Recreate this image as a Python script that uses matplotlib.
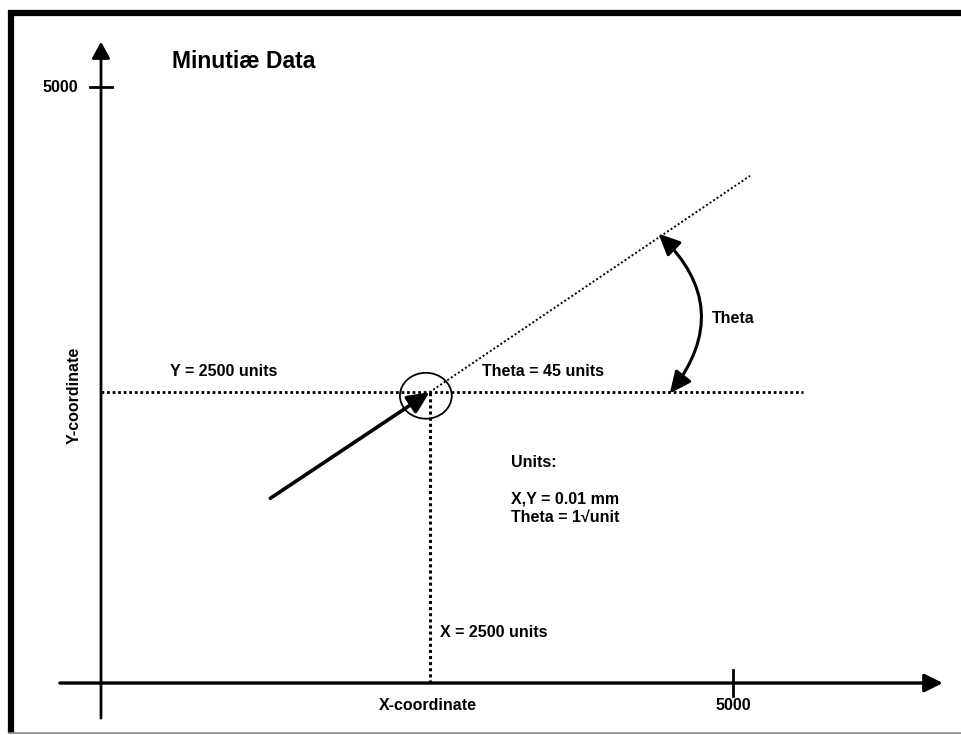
#!/usr/bin/env python3
"""Minutiae data diagram: X/Y coordinate and Theta angle of one minutia."""
import matplotlib
matplotlib.use("Agg")
import matplotlib.pyplot as plt
from matplotlib.patches import Ellipse, FancyArrowPatch
from matplotlib.lines import Line2D

# diagram data, in coordinate units
AXIS_MAX = 5000
MINUTIA_X = 2600
MINUTIA_Y = 2440
RIDGE_START = (1340, 1550)          # tail of the minutia direction arrow
THETA_RAY_END = (5135, 4255)        # end of the dotted angle ray
H_LINE_END_X = 5555                 # end of dotted horizontal reference
THETA_ARC = [(4410, 3770), (4500, 2430)]   # double arrow between the rays
CIRCLE = dict(center=(2570, 2410), width=410, height=385)

TITLE = "Minutiæ Data"
LABELS = [
    # text, x, y, ha
    ("Y = 2500 units", 546, 2617, "left"),
    ("Theta = 45 units", 3014, 2617, "left"),
    ("Theta", 4834, 3062, "left"),
    ("Units:", 3244, 1854, "left"),
    ("X,Y = 0.01 mm", 3244, 1544, "left"),
    ("Theta = 1\u221aunit", 3244, 1393, "left"),
    ("X = 2500 units", 2682, 428, "left"),
]
X_AXIS_LABEL = "X-coordinate"
Y_AXIS_LABEL = "Y-coordinate"
TICK_LABEL = "5000"

plt.rcParams["font.family"] = ["Liberation Sans", "DejaVu Sans"]
plt.rcParams["font.weight"] = "bold"

fig = plt.figure(figsize=(9.61, 7.35), dpi=100)
ax = fig.add_axes([0, 0, 1, 1])
# origin sits at pixel (101, 683); 5000 units at x=733 px and y=87 px
ax.set_xlim(-799, 6804)
ax.set_ylim(-436, 5730)
ax.axis("off")

# coordinate axes with arrow heads
ax.annotate("", xy=(6660, 0), xytext=(-325, 0),
            arrowprops=dict(arrowstyle="-|>,head_length=1.1,head_width=0.55",
                            lw=2.4, color="black", shrinkA=0, shrinkB=0))
ax.annotate("", xy=(0, 5380), xytext=(0, -295),
            arrowprops=dict(arrowstyle="-|>,head_length=1.0,head_width=0.55",
                            lw=2.0, color="black", shrinkA=0, shrinkB=0))
ax.plot([AXIS_MAX, AXIS_MAX], [-110, 110], color="black", lw=2.0)
ax.plot([-85, 85], [AXIS_MAX, AXIS_MAX], color="black", lw=2.0)

# dotted reference lines
ax.plot([0, H_LINE_END_X], [MINUTIA_Y, MINUTIA_Y], color="black",
        lw=2.0, linestyle=(0, (1, 1)))
ax.plot([MINUTIA_X, MINUTIA_X], [0, MINUTIA_Y], color="black",
        lw=2.2, linestyle=(0, (1, 1)))
ax.plot([MINUTIA_X, THETA_RAY_END[0]], [MINUTIA_Y, THETA_RAY_END[1]],
        color="black", lw=1.4, linestyle=(0, (1, 1.2)))

# minutia circle and direction arrow
ax.add_patch(Ellipse(CIRCLE["center"], CIRCLE["width"], CIRCLE["height"],
                     fill=False, edgecolor="black", lw=1.3))
ax.annotate("", xy=(MINUTIA_X, MINUTIA_Y), xytext=RIDGE_START,
            arrowprops=dict(arrowstyle="-|>,head_length=1.3,head_width=0.6",
                            lw=2.6, color="black", shrinkA=0, shrinkB=0))

# theta arc
ax.add_patch(FancyArrowPatch(THETA_ARC[0], THETA_ARC[1],
                             connectionstyle="arc3,rad=-0.45",
                             arrowstyle="<|-|>,head_length=1.3,head_width=0.6",
                             mutation_scale=10,
                             lw=2.2, color="black", shrinkA=0, shrinkB=0))

# texts
ax.text(562, 5210, TITLE, fontsize=16.5, fontweight="bold", va="center")
for txt, x, y, ha in LABELS:
    ax.text(x, y, txt, fontsize=11.5, fontweight="bold", ha=ha, va="center")
ax.text(2587, -185, X_AXIS_LABEL, fontsize=11.5, ha="center", va="center")
ax.text(AXIS_MAX, -185, TICK_LABEL, fontsize=11.5, ha="center", va="center")
ax.text(-182, AXIS_MAX, TICK_LABEL, fontsize=11.5, ha="right", va="center")
ax.text(-214, 2416, Y_AXIS_LABEL, fontsize=11.5, rotation=90,
        ha="center", va="center")

# frame around the picture (top and left thick, bottom thin grey)
def px(x, y):
    return x / 961, 1 - y / 735

for (x0, y0), (x1, y1), lw, col in [
        (px(8, 13), px(961, 13), 4.5, "black"),
        (px(11, 10), px(11, 733), 4.5, "black"),
        (px(8, 733), px(961, 733), 1.2, "#888888")]:
    fig.add_artist(Line2D([x0, x1], [y0, y1], lw=lw, color=col,
                          solid_capstyle="butt"))

fig.savefig("out.png", dpi=100, facecolor="white")
